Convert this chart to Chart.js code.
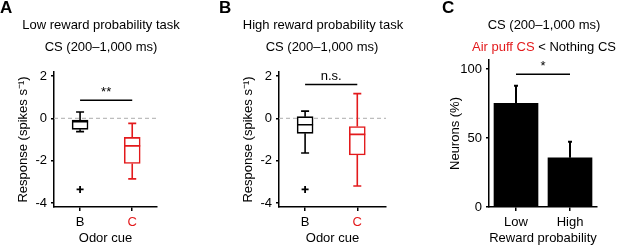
<!DOCTYPE html>
<html>
<head>
<meta charset="utf-8">
<script src="https://cdn.jsdelivr.net/npm/chart.js@4"></script>
<style>
  body { margin: 0; background: #fff; }
  #fig { position: relative; width: 617px; height: 247px; overflow: hidden;
         font-family: "Liberation Sans", Arial, sans-serif; color: #000; }
  #fig canvas { position: absolute; top: 0; }
  .lbl { position: absolute; width: 200px; font-size: 13px; line-height: 16px;
         white-space: nowrap; text-align: center; }
  .panel { position: absolute; top: -2px; font-weight: bold; font-size: 17px; line-height: 20px; }
  .red { color: #e31a1c; }
</style>
</head>
<body>
<div id="fig">
  <canvas id="chartA" width="200" height="247" style="left:0"></canvas>
  <canvas id="chartB" width="180" height="247" style="left:225px"></canvas>
  <canvas id="chartC" width="182" height="247" style="left:435px"></canvas>

  <div class="panel" style="left:0">A</div>
  <div class="lbl" style="left:1px;top:17px">Low reward probability task</div>
  <div class="lbl" style="left:1px;top:39px">CS (200–1,000 ms)</div>

  <div class="panel" style="left:219px">B</div>
  <div class="lbl" style="left:223px;top:17px">High reward probability task</div>
  <div class="lbl" style="left:222px;top:39px">CS (200–1,000 ms)</div>

  <div class="panel" style="left:442px">C</div>
  <div class="lbl" style="left:444px;top:17px">CS (200–1,000 ms)</div>
  <div class="lbl" style="left:444px;top:39px"><span class="red">Air puff CS</span> &lt; Nothing CS</div>
</div>

<script>
const RED = "#e31a1c";

// Odor cues (x positions on the box plot axis)
const odorCues = ["B", "C"];
const cuePositions = [1, 3];
const boxColors = ["#000", RED];

// A: low reward probability task (box stats per cue)
const lowMin = [-0.63, -2.86];
const lowQ1 = [-0.52, -2.13];
const lowMedian = [-0.16, -1.30];
const lowQ3 = [-0.08, -0.90];
const lowMax = [0.30, -0.24];
const lowOutlierX = [1];
const lowOutlierY = [-3.36];

// B: high reward probability task
const highMin = [-1.64, -3.20];
const highQ1 = [-0.71, -1.73];
const highMedian = [-0.30, -0.76];
const highQ3 = [0.08, -0.39];
const highMax = [0.34, 1.17];
const highOutlierX = [1];
const highOutlierY = [-3.36];

const responseTicks = [-4, -2, 0, 2];

// C: % neurons with air puff CS < nothing CS
const rewardLabels = ["Low", "High"];
const neuronPercent = [75.1, 35.7];
const neuronErrTop = [87.9, 47.3];
const percentTicks = [0, 50, 100];

// significance markers
const sigLow = { y: 0.86, text: "**" };
const sigHigh = { y: 1.60, text: "n.s." };
const sigReward = { y: 96.2, text: "*" };

Chart.defaults.font.family = '"Liberation Sans", Arial, sans-serif';
Chart.defaults.font.size = 13;
Chart.defaults.color = "#000";

// whiskers, medians, error bars and significance text drawn through the scales
const extras = {
    id: "extras",
    afterDatasetsDraw(chart, args, opts) {
        const { ctx } = chart;
        const x = chart.scales.x, y = chart.scales.y;
        ctx.save();
        ctx.lineWidth = 1.6;

        if (opts.box) {
            const b = opts.box;
            b.pos.forEach((p, i) => {
                const cx = x.getPixelForValue(p);
                ctx.strokeStyle = boxColors[i];
                ctx.beginPath();
                ctx.moveTo(cx, y.getPixelForValue(b.q3[i]));
                ctx.lineTo(cx, y.getPixelForValue(b.max[i]));
                ctx.moveTo(cx - 4, y.getPixelForValue(b.max[i]));
                ctx.lineTo(cx + 4, y.getPixelForValue(b.max[i]));
                ctx.moveTo(cx, y.getPixelForValue(b.q1[i]));
                ctx.lineTo(cx, y.getPixelForValue(b.min[i]));
                ctx.moveTo(cx - 4, y.getPixelForValue(b.min[i]));
                ctx.lineTo(cx + 4, y.getPixelForValue(b.min[i]));
                ctx.moveTo(cx - 8, y.getPixelForValue(b.median[i]));
                ctx.lineTo(cx + 8, y.getPixelForValue(b.median[i]));
                ctx.stroke();
            });
        }

        if (opts.err) {
            const meta = chart.getDatasetMeta(0);
            ctx.strokeStyle = "#000";
            ctx.lineWidth = 2;
            opts.err.forEach((v, i) => {
                const bar = meta.data[i];
                const top = y.getPixelForValue(v);
                ctx.beginPath();
                ctx.moveTo(bar.x, bar.y);
                ctx.lineTo(bar.x, top);
                ctx.moveTo(bar.x - 2, top);
                ctx.lineTo(bar.x + 2, top);
                ctx.stroke();
            });
        }

        if (opts.sig) {
            const s = opts.sig;
            const cx = (x.getPixelForValue(s.from) + x.getPixelForValue(s.to)) / 2;
            ctx.fillStyle = "#000";
            ctx.font = '13px "Liberation Sans", Arial, sans-serif';
            ctx.textAlign = "center";
            ctx.textBaseline = "alphabetic";
            ctx.fillText(s.text, cx, y.getPixelForValue(s.y) - 4);
        }
        ctx.restore();
    }
};

const axisLine = { display: true, color: "#000", width: 1.5 };
const tickGrid = { drawOnChartArea: false, color: "#000", lineWidth: 1.5, tickLength: 4, offset: false };

function yAxis(min, max, tickValues, title, titleOffset) {
    return {
        min: min, max: max,
        border: axisLine,
        grid: { ...tickGrid, tickLength: 3 },
        afterBuildTicks: s => { s.ticks = tickValues.map(v => ({ value: v })); },
        afterFit: s => { s.width = 54; },
        ticks: { padding: 4 },
        title: { display: true, text: title, padding: { top: titleOffset, bottom: 0 } }
    };
}

function boxChart(id, stats, outX, outY, sig, xMax, rightPad) {
    return new Chart(document.getElementById(id), {
        type: "bar",
        data: {
            datasets: [
                {
                    type: "bar",
                    data: cuePositions.map((p, i) => ({ x: p, y: [stats.q1[i], stats.q3[i]] })),
                    backgroundColor: "#fff",
                    borderColor: boxColors,
                    borderWidth: 1.6,
                    borderSkipped: false,
                    barThickness: 16,
                    order: 2
                },
                {
                    type: "scatter",
                    data: outX.map((v, i) => ({ x: v, y: outY[i] })),
                    pointStyle: "cross",
                    radius: 3.5,
                    borderColor: "#000",
                    borderWidth: 1.8,
                    order: 1
                },
                {
                    type: "line",
                    data: [{ x: 0, y: 0 }, { x: xMax, y: 0 }],
                    borderColor: "#bdbdbd",
                    borderDash: [4, 3],
                    borderWidth: 1.2,
                    pointRadius: 0,
                    order: 5
                },
                {
                    type: "line",
                    data: cuePositions.map(p => ({ x: p, y: sig.y })),
                    borderColor: "#000",
                    borderWidth: 1.5,
                    pointRadius: 0,
                    order: 1
                }
            ]
        },
        options: {
            responsive: false,
            animation: false,
            layout: { padding: { top: 72, right: rightPad, bottom: 0, left: 0 } },
            plugins: {
                legend: { display: false },
                tooltip: { enabled: false },
                extras: {
                    box: { pos: cuePositions, ...stats },
                    sig: { from: cuePositions[0], to: cuePositions[1], text: sig.text, y: sig.y }
                }
            },
            scales: {
                x: {
                    type: "linear",
                    offset: false,
                    min: 0, max: xMax,
                    border: axisLine,
                    grid: tickGrid,
                    afterBuildTicks: s => { s.ticks = cuePositions.map(v => ({ value: v })); },
                    afterFit: s => { s.height = 40; },
                    ticks: {
                        padding: 4,
                        callback: v => odorCues[cuePositions.indexOf(v)],
                        color: c => (c.tick && c.tick.value === cuePositions[1]) ? RED : "#000"
                    },
                    title: { display: true, text: "Odor cue", padding: { top: 0, bottom: 1 } }
                },
                y: yAxis(-4.19, 2.19, responseTicks, "Response (spikes s⁻¹)", 16)
            }
        },
        plugins: [extras]
    });
}

boxChart("chartA",
    { min: lowMin, q1: lowQ1, median: lowMedian, q3: lowQ3, max: lowMax },
    lowOutlierX, lowOutlierY, sigLow, 3.95, 43);

boxChart("chartB",
    { min: highMin, q1: highQ1, median: highMedian, q3: highQ3, max: highMax },
    highOutlierX, highOutlierY, sigHigh, 4.1, 19);

new Chart(document.getElementById("chartC"), {
    type: "bar",
    data: {
        labels: rewardLabels,
        datasets: [
            {
                data: neuronPercent,
                backgroundColor: "#000",
                borderWidth: 0,
                barThickness: 44,
                order: 2
            },
            {
                type: "line",
                data: rewardLabels.map(() => sigReward.y),
                borderColor: "#000",
                borderWidth: 1.5,
                pointRadius: 0,
                order: 1
            }
        ]
    },
    options: {
        responsive: false,
        animation: false,
        layout: { padding: { top: 60, right: 20, bottom: 0, left: 0 } },
        plugins: {
            legend: { display: false },
            tooltip: { enabled: false },
            extras: {
                err: neuronErrTop,
                sig: { from: 0, to: 1, text: sigReward.text, y: sigReward.y }
            }
        },
        scales: {
            x: {
                border: axisLine,
                grid: tickGrid,
                afterFit: s => { s.height = 40; },
                ticks: { padding: 4 },
                title: { display: true, text: "Reward probability", padding: { top: 0, bottom: 1 } }
            },
            y: yAxis(0, 106.5, percentTicks, "Neurons (%)", 13)
        }
    },
    plugins: [extras]
});
</script>
</body>
</html>
